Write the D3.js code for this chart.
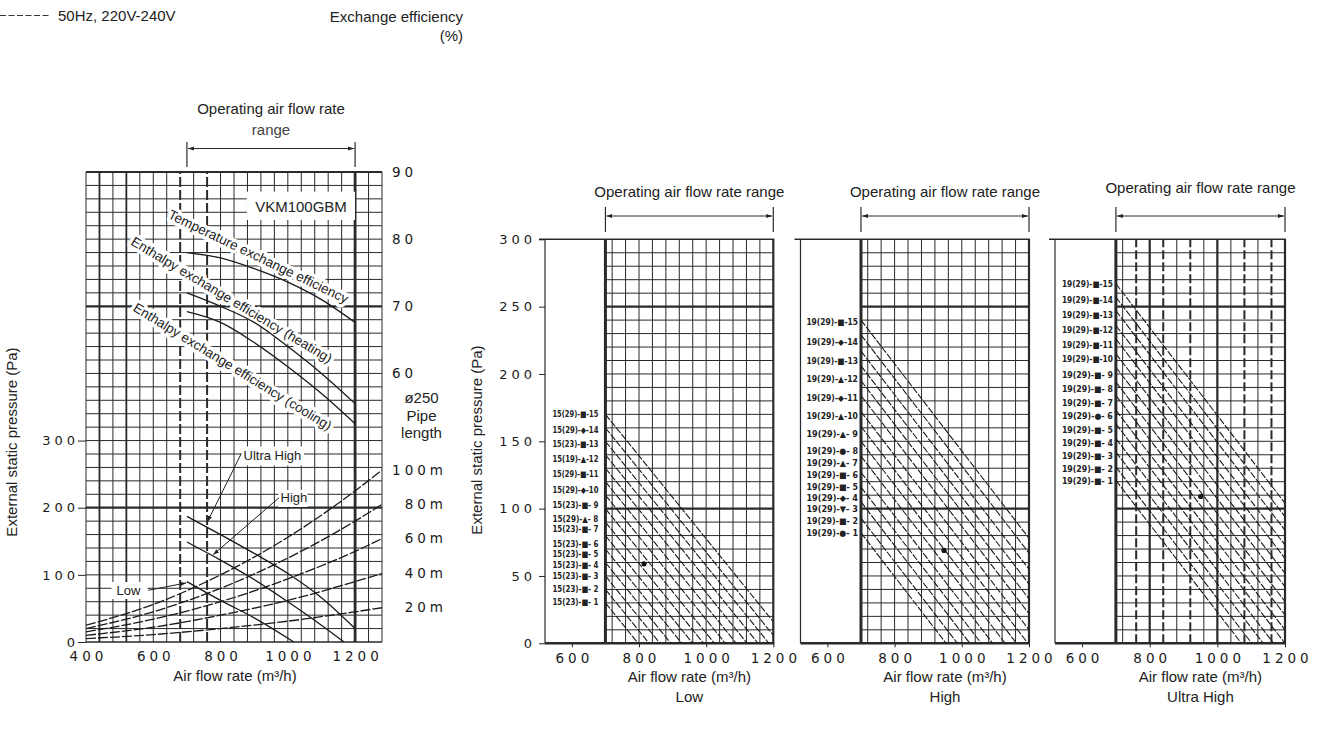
<!DOCTYPE html>
<html><head><meta charset="utf-8">
<script src="https://cdn.jsdelivr.net/npm/d3@7"></script>
<style>
body{margin:0;background:#fff;}
svg text{font-family:"Liberation Sans",Arial,sans-serif;fill:#222;}
svg text.num{font-family:"DejaVu Sans",sans-serif;font-size:13px;letter-spacing:4px;fill:#1a1a1a;}
svg text.lbl{font-size:15px;}
svg text.tiny{font-family:"DejaVu Sans",sans-serif;font-weight:bold;font-size:8.5px;fill:#222;}
</style></head><body>
<svg id="c" width="1320" height="731"></svg>
<script>
// ---------------- DATA ----------------
// Left chart (fan curves, pipe resistance, exchange efficiency)
const leftFlowTicks = [400, 600, 800, 1000, 1200];
const leftPaTicks = [0, 100, 200, 300];
const effTicks = [60, 70, 80, 90];
const pipeLabels = ["100m", "80m", "60m", "40m", "20m"];
const pipeFlow = [400, 600, 800, 1000, 1200, 1280];
const pipe100 = [25, 56, 100, 156, 225, 256];
const pipe80 = [20, 45, 80, 125, 180, 205];
const pipe60 = [15, 34, 60, 94, 135, 154];
const pipe40 = [10, 22, 40, 62, 90, 102];
const pipe20 = [5, 11, 20, 31, 45, 51];
const effFlow = [700, 800, 900, 1000, 1100, 1200];
const effTemp = [78.0, 77.2, 75.6, 73.6, 71.0, 67.6];
const effHeat = [72.0, 70.0, 67.6, 64.0, 60.0, 55.5];
const effCool = [69.2, 67.6, 64.6, 61.0, 57.0, 52.5];
const fanFlowUH = [700, 800, 900, 1000, 1100, 1200];
const fanUH = [187, 160, 132, 102, 66, 20];
const fanFlowH = [700, 800, 900, 1000, 1100, 1167];
const fanH = [149, 122, 93, 60, 25, 0];
const fanFlowL = [700, 800, 900, 1018];
const fanL = [90, 62, 36, 0];

// Right panels
const panelNames = ["Low", "High", "Ultra High"];
const panelFlowTicks = [600, 800, 1000, 1200];
const panelPaTicks = [0, 50, 100, 150, 200, 250, 300];
// line 1 .. line 15 : static pressure at 700 m3/h and at 1200 m3/h
const lowStart = [30, 40, 50, 60, 70, 80, 90, 100, 110, 120, 130, 140, 150, 160, 170];
const lowEnd = [-124, -114, -104, -94, -84, -74, -64, -54, -44, -34, -24, -14, -4, 6, 16];
const lowLabelPa = [31, 40, 50, 58, 66, 73.5, 85, 92, 103, 114, 125.7, 136.5, 148, 158.5, 170];
const lowLabels = ["15(23)-■- 1","15(23)-■- 2","15(23)-■- 3","15(23)-■- 4","15(23)-■- 5","15(23)-■- 6","15(23)-■- 7","15(29)-▲- 8","15(23)-■- 9","15(29)-◆-10","15(29)-■-11","15(19)-▲-12","15(23)-■-13","15(29)-◆-14","15(29)-■-15"];
const lowDot = [815, 59];
const highStart = [82, 93, 105, 116, 127, 139, 150, 161, 172, 184, 195, 206, 217, 229, 240];
const highEnd = [-80, -69, -57, -46, -35, -23, -12, -1, 10, 22, 33, 44, 55, 67, 78];
const highLabelPa = [82, 91, 100, 108, 116, 125, 134, 143, 155.5, 169, 182, 196, 210, 224, 238.6];
const highLabels = ["19(29)-●- 1","19(29)-■- 2","19(29)-▼- 3","19(29)-◆- 4","19(29)-■- 5","19(29)-■- 6","19(29)-▲- 7","19(29)-●- 8","19(29)-▲- 9","19(29)-▲-10","19(29)-◆-11","19(29)-▲-12","19(29)-■-13","19(29)-◆-14","19(29)-■-15"];
const highDot = [947, 69];
const uhStart = [121, 131, 142, 152, 163, 173, 184, 194, 205, 215, 226, 236, 247, 257, 267];
const uhEnd = [-42, -32, -21, -11, 0, 10, 21, 31, 42, 52, 63, 73, 84, 94, 104];
const uhLabelPa = [120.6, 129.8, 139, 148.8, 158.7, 168.8, 178.8, 188.7, 199, 210.8, 221.5, 232.5, 244, 255, 267];
const uhLabels = ["19(29)-■- 1","19(29)-■- 2","19(29)-■- 3","19(29)-■- 4","19(29)-■- 5","19(29)-●- 6","19(29)-■- 7","19(29)-■- 8","19(29)-■- 9","19(29)-■-10","19(29)-■-11","19(29)-■-12","19(29)-■-13","19(29)-■-14","19(29)-■-15"];
const uhDot = [951, 109];

// ---------------- DRAWING ----------------
const fmt = d3.format("d");
const svg = d3.select("#c");
const defs = svg.append("defs");
defs.append("marker").attr("id","arr").attr("viewBox","0 0 10 10").attr("refX",10).attr("refY",5)
  .attr("markerWidth",6).attr("markerHeight",6).attr("orient","auto-start-reverse")
  .append("path").attr("d","M0,1.5L10,5L0,8.5Z").attr("fill","#222");

function ln(g, x1, y1, x2, y2, w, dash, col) {
  return g.append("line").attr("x1",x1).attr("y1",y1).attr("x2",x2).attr("y2",y2)
    .attr("stroke", col || "#2a2a2a").attr("stroke-width", w || 1)
    .attr("stroke-dasharray", dash || null);
}
function bracket(g, xa, xb, yTop, yBot, yMid) {
  ln(g, xa, yTop, xa, yBot, 1.2);
  ln(g, xb, yTop, xb, yBot, 1.2);
  ln(g, xa + 1, yMid, xb - 1, yMid, 1).attr("marker-start","url(#arr)").attr("marker-end","url(#arr)");
}

// top legend
ln(svg, 0, 15.5, 50, 15.5, 1, "6,2.5", "#333");
svg.append("text").attr("class","lbl").attr("x",58).attr("y",21).text("50Hz, 220V-240V");
svg.append("text").attr("class","lbl").attr("x",463).attr("y",22).attr("text-anchor","end").text("Exchange efficiency");
svg.append("text").attr("class","lbl").attr("x",463).attr("y",41).attr("text-anchor","end").text("(%)");

// ===== Left chart =====
const xL = d3.scaleLinear([400, 1280], [86, 382]);
const yL = d3.scaleLinear([0, 700], [642, 172]);
const yEff = d3.scaleLinear([20, 90], [642, 172]);
const gl = svg.append("g");

d3.range(0, 701, 20).forEach(v => {
  let w = 1;
  if (v === 200 || v === 500 || v === 700) w = 2.2;
  if (v === 0) w = 1.6;
  ln(gl, xL(400), yL(v), xL(1280), yL(v), w);
});
d3.range(400, 1281, 40).forEach(v => {
  let w = 1, dash = null;
  if (v === 700 || v === 1200) w = 2.8;
  else if (v === 680 || v === 760) { w = 2; dash = "10,3"; }
  else if (v === 440 || v === 520) w = 1.8;
  ln(gl, xL(v), yL(0), xL(v), yL(700), w, dash);
});

// white label boxes (grid cleared)
const boxes = [[246.7,191.7,108.3,28.3],[241,446.5,63,19],[278.5,490,29,17],[111.5,582,36,17]];
gl.selectAll("rect.box").data(boxes).join("rect").attr("class","box")
  .attr("x",d=>d[0]).attr("y",d=>d[1]).attr("width",d=>d[2]).attr("height",d=>d[3]).attr("fill","#fff");

// efficiency label halos
const effLabelSpec = [
  {t:"Temperature exchange efficiency", x:258.3, y:256.7, a:25.7},
  {t:"Enthalpy exchange efficiency (heating)", x:231.7, y:300, a:31},
  {t:"Enthalpy exchange efficiency (cooling)", x:232.5, y:366.7, a:31.6}
];
function effLabels(g, halo) {
  g.selectAll(null).data(effLabelSpec).join("text")
    .attr("x",d=>d.x).attr("y",d=>d.y).attr("text-anchor","middle").attr("dominant-baseline","central")
    .attr("transform",d=>`rotate(${d.a},${d.x},${d.y})`)
    .style("font-size","13.5px")
    .style("fill", halo ? "#fff" : "#222")
    .style("stroke", halo ? "#fff" : "none").style("stroke-width", halo ? 7 : 0)
    .style("stroke-linejoin","round")
    .text(d=>d.t);
}
effLabels(gl.append("g"), true);

// clip for left plot
defs.append("clipPath").attr("id","clipL").append("rect")
  .attr("x",xL(400)).attr("y",yL(700)).attr("width",xL(1280)-xL(400)).attr("height",yL(0)-yL(700));
const glc = gl.append("g").attr("clip-path","url(#clipL)");

const lineL = d3.line().x(d=>xL(d[0])).y(d=>yL(d[1])).curve(d3.curveMonotoneX);
const pipes = [pipe100, pipe80, pipe60, pipe40, pipe20];
pipes.forEach(arr => {
  glc.append("path").attr("d", lineL(pipeFlow.map((f,i)=>[f, arr[i]])))
    .attr("fill","none").attr("stroke","#1a1a1a").attr("stroke-width",1.3).attr("stroke-dasharray","10,2");
});
[[fanFlowUH, fanUH],[fanFlowH, fanH],[fanFlowL, fanL]].forEach(([fx, fy]) => {
  glc.append("path").attr("d", lineL(fx.map((f,i)=>[f, fy[i]])))
    .attr("fill","none").attr("stroke","#1a1a1a").attr("stroke-width",1.3);
});
const lineE = d3.line().x(d=>xL(d[0])).y(d=>yEff(d[1])).curve(d3.curveMonotoneX);
[effTemp, effHeat, effCool].forEach(arr => {
  glc.append("path").attr("d", lineE(effFlow.map((f,i)=>[f, arr[i]])))
    .attr("fill","none").attr("stroke","#1a1a1a").attr("stroke-width",1.3);
});
effLabels(gl.append("g"), false);

// VKM box text & fan labels
gl.append("text").attr("class","lbl").attr("x",301).attr("y",211.5).attr("text-anchor","middle").text("VKM100GBM");
gl.append("text").attr("x",243.5).attr("y",460).style("font-size","13px").text("Ultra High");
gl.append("text").attr("x",280.5).attr("y",502).style("font-size","13px").text("High");
gl.append("text").attr("x",116.5).attr("y",595).style("font-size","13px").text("Low");
// pointers [from(flow,Pa) -> to(flow,Pa)]
const pointers = [[[862,281],[761,179]],[[974,215],[778,130]],[[585,77],[698,88]]];
pointers.forEach(p => {
  ln(gl, xL(p[0][0]), yL(p[0][1]), xL(p[1][0]), yL(p[1][1]), 1, null, "#222").attr("marker-end","url(#arr)");
});

// axes
const axB = gl.append("g").attr("transform",`translate(0,${yL(0)})`)
  .call(d3.axisBottom(xL).tickValues(leftFlowTicks).tickFormat(fmt).tickSize(0).tickPadding(9));
axB.select(".domain").remove();
axB.selectAll("text").attr("class","num").attr("dx",2).style("font-size","13.5px");
const axLf = gl.append("g").attr("transform",`translate(${xL(400)},0)`)
  .call(d3.axisLeft(yL).tickValues(leftPaTicks).tickFormat(fmt).tickSize(8).tickPadding(0));
axLf.select(".domain").remove();
axLf.selectAll("line").attr("stroke","#222");
axLf.selectAll("text").attr("class","num").attr("x",-7);
const axR = gl.append("g").attr("transform",`translate(${xL(1280)},0)`)
  .call(d3.axisRight(yEff).tickValues(effTicks).tickFormat(fmt).tickSize(0).tickPadding(10));
axR.select(".domain").remove();
axR.selectAll("text").attr("class","num").style("font-size","13.5px");
gl.selectAll("text.pipe").data(pipeLabels).join("text").attr("class","num pipe")
  .attr("x",447).attr("y",(d,i)=>yL(pipes[i][pipes[i].length-1])).attr("dy","0.35em")
  .attr("text-anchor","end").style("font-size","13.5px").text(d=>d);
[["ø250",403],["Pipe",421],["length",438]].forEach(([t,yy]) =>
  gl.append("text").attr("class","lbl").attr("x",421.5).attr("y",yy).attr("text-anchor","middle").text(t));

// titles left
gl.append("text").attr("class","lbl").attr("x",271).attr("y",114).attr("text-anchor","middle").text("Operating air flow rate");
gl.append("text").attr("class","lbl").attr("x",271).attr("y",135).attr("text-anchor","middle").style("fill","#444").text("range");
bracket(gl, xL(700), xL(1200), 142, 167, 148.5);
gl.append("text").attr("class","lbl").attr("transform","translate(17,442) rotate(-90)").attr("text-anchor","middle").text("External static pressure (Pa)");
gl.append("text").attr("class","lbl").attr("x",235).attr("y",681).attr("text-anchor","middle").text("Air flow rate (m³/h)");

// ===== Right panels =====
const panelLeft = [545, 800.5, 1055];
const panelRight = [773.3, 1029, 1285];
const panelStart = [lowStart, highStart, uhStart];
const panelEnd = [lowEnd, highEnd, uhEnd];
const panelLabelPa = [lowLabelPa, highLabelPa, uhLabelPa];
const panelLabels = [lowLabels, highLabels, uhLabels];
const panelDots = [lowDot, highDot, uhDot];
const labelGap = [7, 3, 3];
const labelWidth = [46, 51.6, 51];
const titleY = [197, 197, 193];

const yP = d3.scaleLinear([0, 300], [643.3, 239.3]);
panelNames.forEach((name, i) => {
  const x = d3.scaleLinear([520, 1200], [panelLeft[i], panelRight[i]]);
  const g = svg.append("g");
  // horizontal grid
  d3.range(10, 300, 10).forEach(v => {
    const w = (v === 100 || v === 250) ? 2.2 : 1;
    ln(g, x(700), yP(v), x(1200), yP(v), w);
  });
  // vertical grid
  const vlines = [720].concat(d3.range(760, 1200, 40));
  vlines.forEach(v => {
    let w = 1, dash = null;
    if (i === 2) {
      if (v === 800 || v === 1000) w = 2.2;
      if ([760, 840, 920, 1080, 1160].includes(v)) { w = 2; dash = "9,3"; }
    }
    ln(g, x(v), yP(0), x(v), yP(300), w, dash);
  });
  // frame
  ln(g, x(520), yP(300), x(520), yP(0), 1.2);
  ln(g, x(520) - 6, yP(300), x(1200) + 1, yP(300), 1.5);
  ln(g, x(1200), yP(300), x(1200), yP(0), 2.2);
  ln(g, x(700), yP(300), x(700), yP(0), 3);
  ln(g, x(520), yP(0), x(1200) + 1, yP(0), 2.6);
  // diagonal lines
  defs.append("clipPath").attr("id","clipP"+i).append("rect")
    .attr("x",x(700)).attr("y",yP(300)).attr("width",x(1200)-x(700)).attr("height",yP(0)-yP(300));
  const gc = g.append("g").attr("clip-path",`url(#clipP${i})`);
  gc.selectAll("line.d").data(panelStart[i]).join("line").attr("class","d")
    .attr("x1",x(700)).attr("y1",d=>yP(d))
    .attr("x2",x(1200)).attr("y2",(d,k)=>yP(panelEnd[i][k]))
    .attr("stroke","#1a1a1a").attr("stroke-width",1.1).attr("stroke-dasharray","7,1.5");
  // operating point
  g.append("circle").attr("cx",x(panelDots[i][0])).attr("cy",yP(panelDots[i][1])).attr("r",2.6).attr("fill","#111");
  // line labels
  g.selectAll("text.tiny").data(panelLabels[i]).join("text").attr("class","tiny")
    .attr("x", x(700) - labelGap[i] - labelWidth[i])
    .attr("y",(d,k)=>yP(panelLabelPa[i][k]) + 3)
    .attr("textLength", labelWidth[i]).attr("lengthAdjust","spacingAndGlyphs")
    .text(d=>d);
  // axes
  const ax = g.append("g").attr("transform",`translate(0,${yP(0)})`)
    .call(d3.axisBottom(x).tickValues(panelFlowTicks).tickFormat(fmt).tickSize(4).tickPadding(6));
  ax.select(".domain").remove();
  ax.selectAll("line").attr("stroke","#222");
  ax.selectAll("text").attr("class","num").attr("dx",2).style("font-size","13.5px");
  if (i === 0) {
    const ay = g.append("g").attr("transform",`translate(${x(520)},0)`)
      .call(d3.axisLeft(yP).tickValues(panelPaTicks).tickFormat(fmt).tickSize(6).tickPadding(0));
    ay.select(".domain").remove();
    ay.selectAll("line").attr("stroke","#222");
    ay.selectAll("text").attr("class","num").attr("x",-9);
    g.append("text").attr("class","lbl").attr("transform","translate(482,440) rotate(-90)").attr("text-anchor","middle").text("External static pressure (Pa)");
  }
  // titles
  const cx = (x(700) + x(1200)) / 2;
  g.append("text").attr("class","lbl").attr("x",cx).attr("y",titleY[i]).attr("text-anchor","middle").text("Operating air flow rate range");
  bracket(g, x(700), x(1200), 207, 232, 216);
  g.append("text").attr("class","lbl").attr("x",cx).attr("y",682).attr("text-anchor","middle").text("Air flow rate (m³/h)");
  g.append("text").attr("class","lbl").attr("x",cx).attr("y",702).attr("text-anchor","middle").text(name);
});
</script>
</body></html>
